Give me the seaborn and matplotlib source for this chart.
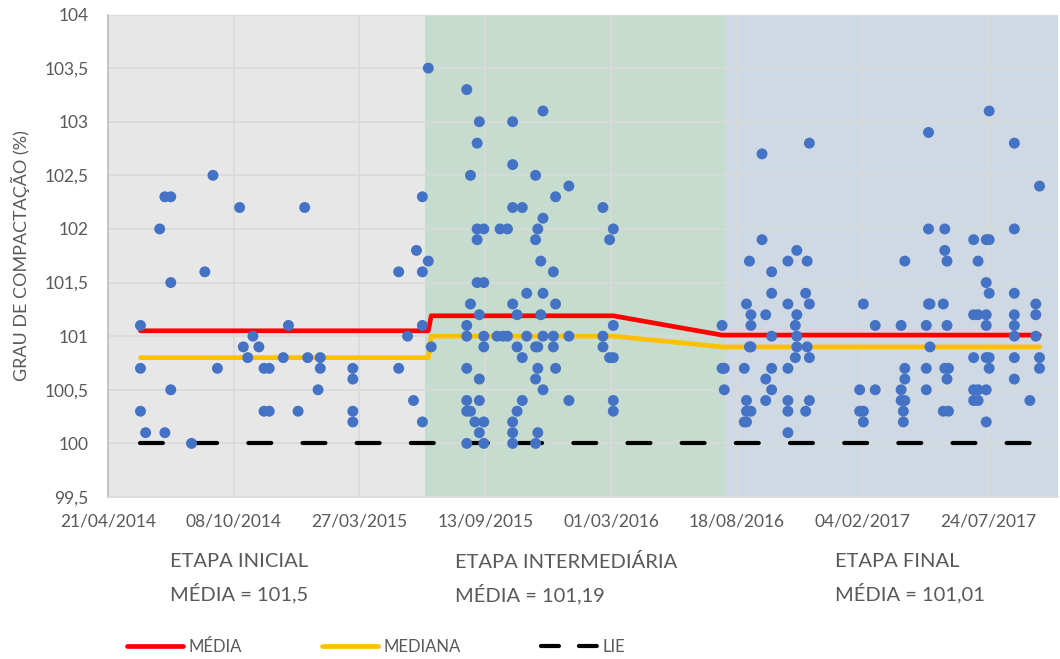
import numpy as np
import pandas as pd
import matplotlib
matplotlib.use('Agg')
import matplotlib.pyplot as plt
import matplotlib.dates as mdates
from matplotlib.lines import Line2D
from matplotlib.ticker import FuncFormatter, MultipleLocator
import seaborn as sns

sns.set_theme(style='white')
plt.rcParams['font.family'] = ['Lato', 'DejaVu Sans']

# ===================== dados =====================
DATAS_INICIAL = ['2014-06-04', '2014-06-11', '2014-06-30', '2014-07-07', '2014-07-15',
                 '2014-08-12', '2014-08-30', '2014-09-10', '2014-09-16', '2014-10-16',
                 '2014-10-21', '2014-10-27', '2014-11-03', '2014-11-11', '2014-11-18',
                 '2014-11-25', '2014-12-14', '2014-12-21', '2015-01-03', '2015-01-12',
                 '2015-01-16', '2015-01-30', '2015-02-02', '2015-03-18', '2015-05-19',
                 '2015-05-31', '2015-06-08', '2015-06-12', '2015-06-20', '2015-06-28']
GRAU_INICIAL = [[101.1, 100.7, 100.3], [100.1], [102.0], [102.3, 100.1], [102.3, 101.5, 100.5],
                [100.0], [101.6], [102.5], [100.7], [102.2],
                [100.9], [100.8], [101.0], [100.9], [100.7, 100.3],
                [100.7, 100.3], [100.8], [101.1], [100.3], [102.2],
                [100.8], [100.5], [100.8, 100.7], [100.7, 100.6, 100.3, 100.2], [101.6, 100.7],
                [101.0], [100.4], [101.8], [102.3, 101.6, 101.1, 100.2], [103.5, 101.7]]

DATAS_INTERMEDIARIA = ['2015-07-02', '2015-08-19', '2015-08-24', '2015-08-30', '2015-09-02',
                       '2015-09-05', '2015-09-11', '2015-09-29', '2015-10-03', '2015-10-07',
                       '2015-10-13', '2015-10-20', '2015-10-26', '2015-11-02', '2015-11-08',
                       '2015-11-20', '2015-11-23', '2015-11-27', '2015-11-30', '2015-12-14',
                       '2015-12-17', '2016-01-04', '2016-02-19', '2016-02-28', '2016-03-04']
GRAU_INTERMEDIARIA = [[100.9], [103.3, 101.1, 101.0, 100.7, 100.4, 100.3, 100.0], [102.5, 101.3, 100.3],
                      [100.2], [102.8, 102.0, 101.9, 101.5],
                      [103.0, 101.2, 100.6, 100.4, 100.1], [102.0, 101.5, 101.0, 100.9, 100.2, 100.0],
                      [101.0], [102.0], [101.0],
                      [102.0, 101.0], [103.0, 102.6, 102.2, 101.3, 100.2, 100.1, 100.0],
                      [101.2, 100.9, 100.3], [102.2, 100.8, 100.4], [101.4, 101.0],
                      [102.5, 101.9, 100.9, 100.6, 100.0], [102.0, 100.9, 100.7, 100.1], [101.7, 101.2],
                      [103.1, 102.1, 101.4, 101.0, 100.5], [101.6, 101.0, 100.9],
                      [102.3, 101.3, 100.7], [102.4, 101.0, 100.4], [102.2, 101.0, 100.9],
                      [101.9, 100.8], [102.0, 101.1, 100.8, 100.4, 100.3]]

DATAS_FINAL = ['2016-07-29', '2016-08-01', '2016-08-28', '2016-08-31', '2016-09-04',
               '2016-09-06', '2016-09-21', '2016-09-26', '2016-10-04', '2016-10-26',
               '2016-11-05', '2016-11-07', '2016-11-19', '2016-11-21', '2016-11-24',
               '2017-01-31', '2017-02-05', '2017-02-21', '2017-03-28', '2017-03-31',
               '2017-04-02', '2017-05-01', '2017-05-04', '2017-05-06', '2017-05-24',
               '2017-05-26', '2017-05-29', '2017-05-31', '2017-07-04', '2017-07-10',
               '2017-07-21', '2017-07-25', '2017-08-28', '2017-09-18', '2017-09-26',
               '2017-10-01']
GRAU_FINAL = [[101.1, 100.7], [100.7, 100.5], [100.7, 100.2], [101.3, 100.4, 100.3, 100.2],
              [101.7, 100.9], [101.2, 101.1, 100.9, 100.3], [102.7, 101.9], [101.2, 100.6, 100.4],
              [101.6, 101.4, 101.0, 100.7, 100.5], [101.7, 101.3, 100.7, 100.4, 100.3, 100.1],
              [101.1, 100.8], [101.8, 101.2, 101.0, 100.9], [101.4, 100.3], [101.7, 100.9],
              [102.8, 101.3, 100.8, 100.4], [100.5, 100.3], [101.3, 100.3, 100.2], [101.1, 100.5],
              [101.1, 100.5, 100.4], [100.3, 100.2], [101.7, 100.7, 100.6, 100.4],
              [101.1, 100.7, 100.5], [102.9, 102.0, 101.3], [101.3, 100.9], [101.3, 100.3],
              [102.0, 101.8, 100.7], [101.7, 101.1, 100.6], [100.7, 100.3],
              [101.9, 101.2, 100.8, 100.5, 100.4], [101.7, 101.2, 100.5, 100.4],
              [101.9, 101.5, 101.2, 101.1, 100.8, 100.5, 100.2], [103.1, 101.9, 101.4, 100.8, 100.7],
              [102.8, 102.0, 101.4, 101.2, 101.1, 101.0, 100.8, 100.6], [100.4],
              [101.3, 101.2, 101.0], [102.4, 100.8, 100.7]]

ETAPAS = ['ETAPA INICIAL', 'ETAPA INTERMEDIÁRIA', 'ETAPA FINAL']
MEDIA_TEXTO = ['101,5', '101,19', '101,01']
MEDIA_LINHA = [101.05, 101.19, 101.01]
MEDIANA_LINHA = [100.8, 101.0, 100.9]
LIE = 100.0

LIMITES_ETAPAS = ['2014-04-21', '2015-06-24', '2016-08-02', '2017-10-26']
CORES_ETAPAS = ['#E7E7E7', '#C6DCCF', '#CFD9E4']
PRIMEIRO_TICK = '2014-04-21'
PASSO_TICK = '170D'

# ===================== tabelas =====================
linhas_pts = []
linhas_etapa = []
grupos = [(DATAS_INICIAL, GRAU_INICIAL), (DATAS_INTERMEDIARIA, GRAU_INTERMEDIARIA),
          (DATAS_FINAL, GRAU_FINAL)]
for i, (datas, graus) in enumerate(grupos):
    for d, vals in zip(datas, graus):
        for v in vals:
            linhas_pts.append({'data': pd.Timestamp(d), 'grau': v, 'etapa': ETAPAS[i]})
        linhas_etapa.append({'data': pd.Timestamp(d), 'media': MEDIA_LINHA[i],
                             'mediana': MEDIANA_LINHA[i], 'lie': LIE})
df_pts = pd.DataFrame(linhas_pts)
df_linhas = pd.DataFrame(linhas_etapa)

# ===================== figura =====================
fig = plt.figure(figsize=(10.6, 6.59), dpi=100)
ax = fig.add_axes([107.9 / 1060, 1 - 497 / 659, (1058 - 107.9) / 1060, 482.5 / 659])

for i in range(3):
    ax.axvspan(pd.Timestamp(LIMITES_ETAPAS[i]), pd.Timestamp(LIMITES_ETAPAS[i + 1]),
               color=CORES_ETAPAS[i], lw=0, zorder=0)

sns.lineplot(data=df_linhas, x='data', y='media', color='#FF0000', lw=3.4,
             label='MÉDIA', ax=ax, zorder=2)
sns.lineplot(data=df_linhas, x='data', y='mediana', color='#FFC000', lw=3.4,
             label='MEDIANA', ax=ax, zorder=2)
sns.lineplot(data=df_linhas.iloc[[0, -1]], x='data', y='lie', color='black', lw=3.0,
             linestyle=(0, (5.5, 7.5)), dash_capstyle='round', label='LIE', ax=ax, zorder=2)
sns.scatterplot(data=df_pts, x='data', y='grau', color='#4472C4', s=62,
                edgecolor='none', ax=ax, zorder=3)

# eixos
ax.set_xlim(pd.Timestamp(LIMITES_ETAPAS[0]), pd.Timestamp(LIMITES_ETAPAS[-1]))
ax.set_ylim(99.5, 104)
ax.set_xticks(pd.date_range(PRIMEIRO_TICK, periods=8, freq=PASSO_TICK))
ax.xaxis.set_major_formatter(mdates.DateFormatter('%d/%m/%Y'))
ax.yaxis.set_major_locator(MultipleLocator(0.5))
ax.yaxis.set_major_formatter(FuncFormatter(lambda v, _: f'{v:g}'.replace('.', ',')))
ax.grid(True, color='#D9D9D9', lw=1.2)
ax.set_axisbelow(True)
ax.tick_params(axis='both', length=0, labelcolor='#595959', labelsize=12.5)
ax.tick_params(axis='x', pad=12)
ax.tick_params(axis='y', pad=14)
for s in ['top', 'right']:
    ax.spines[s].set_visible(False)
ax.spines['left'].set_color('#BFBFBF')
ax.spines['bottom'].set_color('#D9D9D9')
ax.set_xlabel('')
ax.set_ylabel('GRAU DE COMPACTAÇÃO (%)', fontsize=13, color='#595959', labelpad=10)

# textos das etapas
pos_x = [170, 455, 835]
for i in range(3):
    fig.text(pos_x[i] / 1060, 1 - 553 / 659, f'{ETAPAS[i]}\nMÉDIA = {MEDIA_TEXTO[i]}',
             ha='left', va='top', fontsize=14.5, color='#595959', linespacing=1.7)

# legenda (traço do LIE mais curto, como na legenda do Excel)
handles, labels = ax.get_legend_handles_labels()
ax.get_legend().remove()
handles[2] = Line2D([], [], color='black', lw=3.0, linestyle=(0, (4.3, 4.8)),
                    dash_capstyle='round')
fig.legend(handles, labels, loc='center left', bbox_to_anchor=(120 / 1060, 1 - 647 / 659),
           ncol=3, frameon=False, handlelength=3.4, handletextpad=0.3, columnspacing=4.8,
           fontsize=12, labelcolor='#595959', borderaxespad=0)

fig.savefig('out.png', dpi=100)
